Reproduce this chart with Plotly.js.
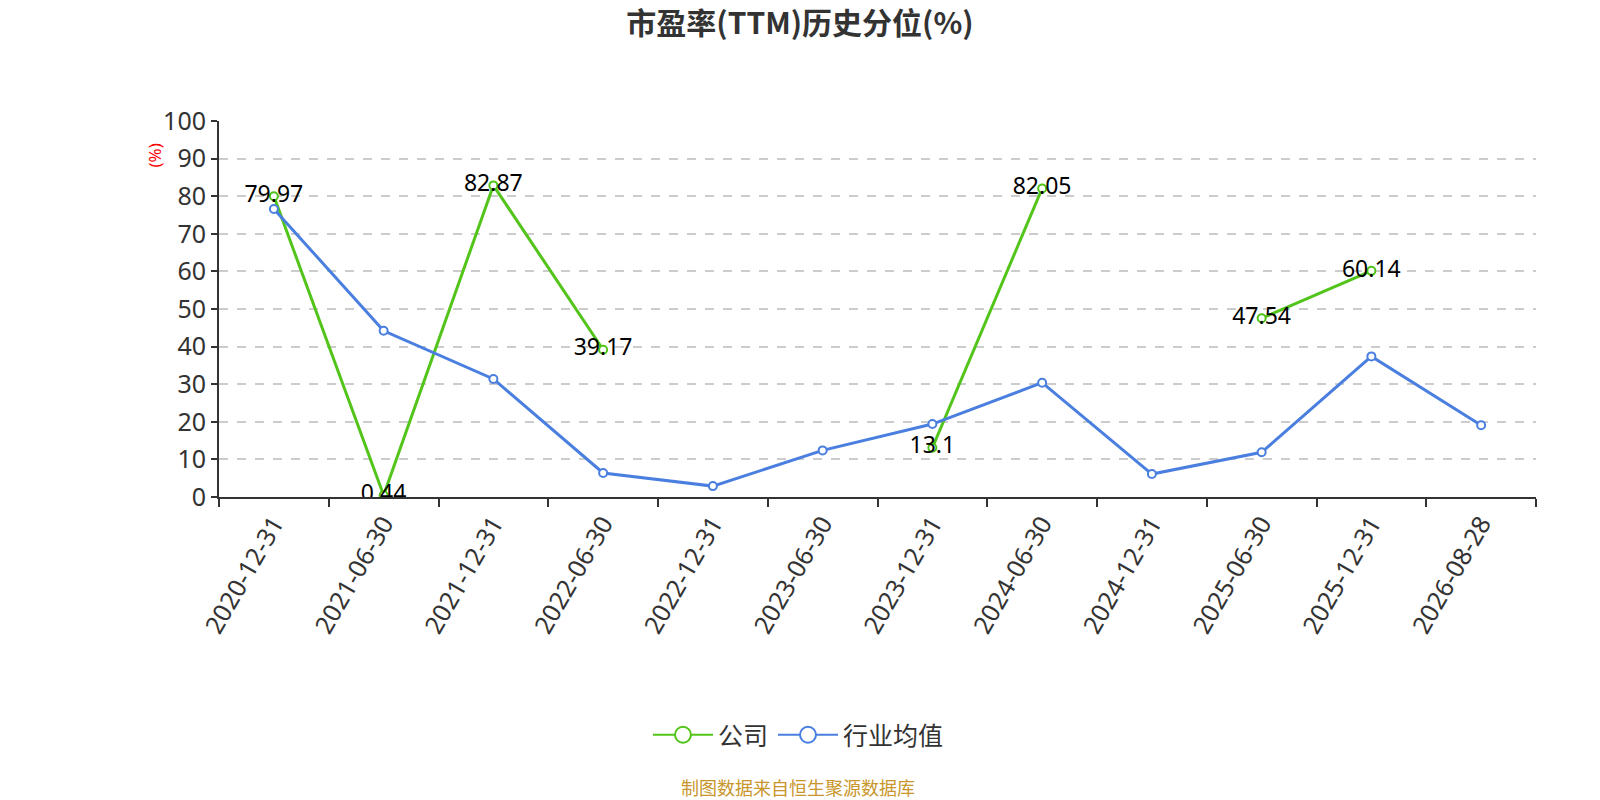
<html>
<head>
<meta charset="utf-8">
<script src="https://cdn.plot.ly/plotly-3.0.1.min.js"></script>
<style>body{margin:0;background:#fff;}</style>
</head>
<body>
<div id="chart" style="width:1600px;height:800px;"></div>
<script>
var dates = ['2020-12-31','2021-06-30','2021-12-31','2022-06-30','2022-12-31','2023-06-30',
             '2023-12-31','2024-06-30','2024-12-31','2025-06-30','2025-12-31','2026-08-28'];
var company = [79.97, 0.44, 82.87, 39.17, null, null, 13.1, 82.05, null, 47.54, 60.14, null];
var industry = [76.6, 44.2, 31.4, 6.4, 2.9, 12.4, 19.4, 30.4, 6.1, 11.9, 37.4, 19.1];

var font = 'Noto Sans CJK SC, Noto Sans, sans-serif';
var numFont = 'Noto Sans, Open Sans, sans-serif';
var green = '#52c41a', blue = '#4a7fe0';

var trace1 = {
  x: dates, y: company, name: '公司', showlegend: false,
  type: 'scatter', mode: 'lines+markers+text',
  connectgaps: false,
  line: {color: green, width: 3},
  marker: {symbol: 'circle', size: 8, color: '#fff', line: {color: green, width: 2}},
  text: company.map(function(v){ return v === null ? '' : String(v); }),
  textposition: 'middle center',
  textfont: {family: numFont, size: 23, color: '#000'}
};
var trace2 = {
  x: dates, y: industry, name: '行业均值', showlegend: false,
  type: 'scatter', mode: 'lines+markers',
  line: {color: blue, width: 3},
  marker: {symbol: 'circle', size: 8, color: '#fff', line: {color: blue, width: 2}}
};
// legend-only entries with larger symbols
var leg1 = {x: [dates[0]], y: [null], name: '公司', type: 'scatter', mode: 'lines+markers',
  line: {color: green, width: 2}, marker: {size: 16, color: '#fff', line: {color: green, width: 2}}};
var leg2 = {x: [dates[0]], y: [null], name: '行业均值', type: 'scatter', mode: 'lines+markers',
  line: {color: blue, width: 2}, marker: {size: 16, color: '#fff', line: {color: blue, width: 2}}};

var layout = {
  width: 1600, height: 800,
  margin: {l: 219, r: 64, t: 121, b: 303},
  paper_bgcolor: '#fff', plot_bgcolor: '#fff',
  font: {family: font, color: '#333'},
  title: {text: '<b>市盈率(TTM)历史分位(%)</b>', x: 0.5, xanchor: 'center', y: 0.971, yanchor: 'middle',
          font: {family: font, size: 30, color: '#333'}},
  xaxis: {
    type: 'category', range: [-0.5, 11.5],
    tickson: 'boundaries', ticks: 'outside', ticklen: 8, tickcolor: '#333', tickwidth: 2,
    showline: true, linecolor: '#333', linewidth: 2,
    showgrid: false, zeroline: false,
    tickangle: -60, tickfont: {family: numFont, size: 25, color: '#333'}
  },
  yaxis: {
    range: [0, 100], dtick: 10,
    ticks: 'outside', ticklen: 6, tickcolor: '#333', tickwidth: 2,
    showline: true, linecolor: '#333', linewidth: 2,
    showgrid: true, gridcolor: '#ccc', griddash: 'dash', gridwidth: 1.5,
    zeroline: false,
    tickfont: {family: numFont, size: 25, color: '#333'}
  },
  showlegend: true,
  legend: {orientation: 'h', x: 0.44, xanchor: 'center', y: -0.633, yanchor: 'middle',
           font: {family: font, size: 25, color: '#333'}, itemwidth: 60},
  annotations: [
    {text: '(%)', xref: 'paper', yref: 'paper', x: -0.059, y: 0.945, showarrow: false,
     textangle: -90, font: {family: numFont, size: 17, color: '#f00'}},
    {text: '制图数据来自恒生聚源数据库', xref: 'paper', yref: 'paper', x: 0.44, y: -0.812,
     showarrow: false, font: {family: font, size: 18, color: '#c8962a'}}
  ]
};

Plotly.newPlot('chart', [trace1, trace2, leg1, leg2], layout, {displayModeBar: false});
</script>
</body>
</html>
